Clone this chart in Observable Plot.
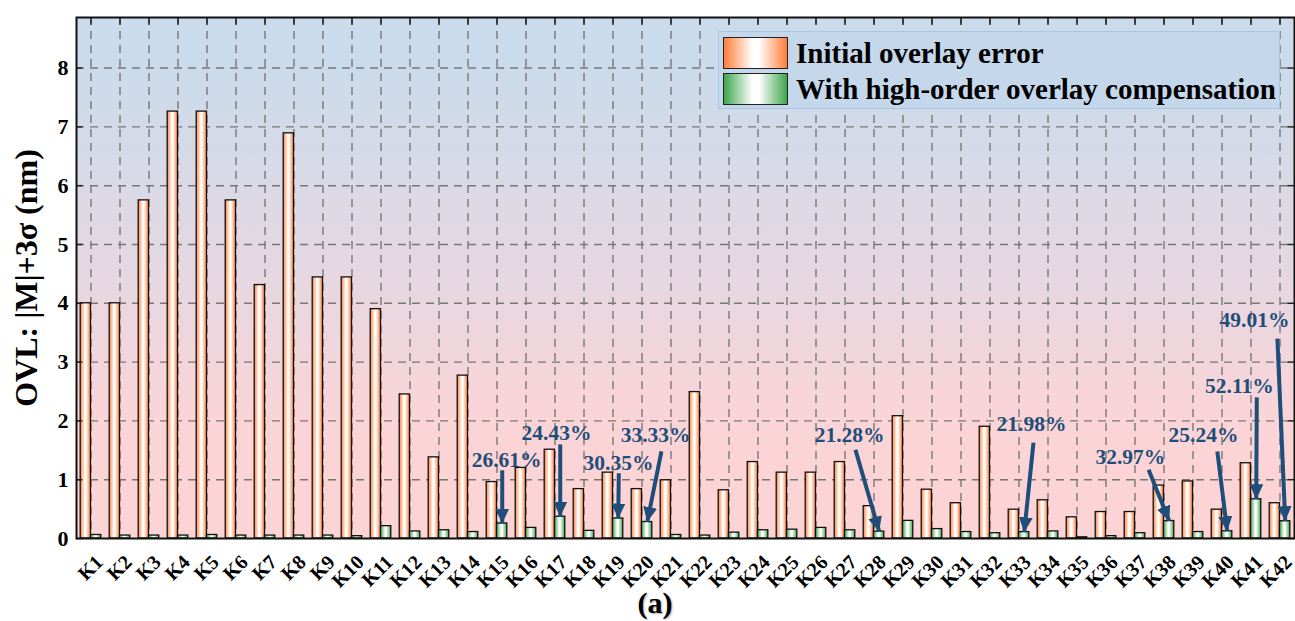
<!DOCTYPE html>
<html><head><meta charset="utf-8">
<script src="https://cdn.jsdelivr.net/npm/d3@7"></script>
<script src="https://cdn.jsdelivr.net/npm/@observablehq/plot@0.6"></script>
<style>
html,body{margin:0;padding:0;background:#fff;}
#wrap{position:relative;width:1295px;height:621px;overflow:hidden;font-family:"Liberation Serif","Times New Roman",serif;}
#wrap svg{display:block;}
.legend{position:absolute;left:718px;top:31px;width:562px;height:78px;box-sizing:border-box;background:#c5d7ea;border:1px solid #a9c5e2;}
.row{position:absolute;left:4px;display:flex;align-items:center;}
.sw{width:65px;height:32px;box-sizing:border-box;border:1.5px solid #222;}
.lab{font-weight:bold;font-size:29px;margin-left:8px;color:#000;white-space:nowrap;line-height:32px;}
.cap{position:absolute;left:615px;top:586px;width:80px;text-align:center;font-weight:bold;font-size:30px;line-height:34px;color:#000;text-shadow:1px 1px 2px rgba(0,0,0,0.35);}
</style></head>
<body>
<div id="wrap"></div>
<script>
// ---- data ----
const categories = ["K1","K2","K3","K4","K5","K6","K7","K8","K9","K10","K11","K12","K13","K14","K15","K16","K17","K18","K19","K20","K21","K22","K23","K24","K25","K26","K27","K28","K29","K30","K31","K32","K33","K34","K35","K36","K37","K38","K39","K40","K41","K42"];
const initialError = [4.00,4.00,5.75,7.26,7.26,5.75,4.31,6.89,4.44,4.44,3.90,2.45,1.38,2.77,0.96,1.20,1.51,0.84,1.12,0.84,0.99,2.49,0.82,1.30,1.12,1.12,1.30,0.55,2.08,0.83,0.60,1.90,0.49,0.65,0.36,0.45,0.45,0.90,0.97,0.49,1.28,0.60];
const compensated = [0.06,0.05,0.05,0.05,0.06,0.05,0.05,0.05,0.05,0.04,0.21,0.12,0.14,0.11,0.255,0.18,0.37,0.13,0.34,0.28,0.06,0.05,0.10,0.14,0.15,0.18,0.14,0.117,0.30,0.16,0.11,0.09,0.108,0.12,0.02,0.04,0.09,0.297,0.11,0.124,0.667,0.294];
const yTicks = [0,1,2,3,4,5,6,7,8];
const seriesNames = ["Initial overlay error","With high-order overlay compensation"];
const yTitle = "OVL: |M|+3σ (nm)";
const caption = "(a)";
const annoLabels = ["26.61%","24.43%","30.35%","33.33%","21.28%","21.98%","32.97%","25.24%","52.11%","49.01%"];
const annoTargets = [15,17,19,20,28,33,38,40,41,42];
// annotation layout (data units): label centre and arrow tail
const annoTextX = [15.33,17.05,19.19,20.47,27.16,33.43,36.84,39.36,40.60,41.12];
const annoTextY = [1.33,1.79,1.29,1.75,1.75,1.94,1.38,1.75,2.59,3.71];
const annoTailX = [15.18,17.18,19.20,20.67,27.36,33.50,37.47,39.84,41.20,41.91];
const annoTailY = [1.16,1.60,1.11,1.48,1.51,1.63,1.17,1.48,2.40,3.40];

const rows = categories.map((k, i) => ({i: i + 1, k, a: initialError[i], b: compensated[i]}));
const idx = rows.map(d => d.i);
const annos = annoLabels.map((t, j) => ({
  t, tx: annoTextX[j], ty: annoTextY[j], x1: annoTailX[j], y1: annoTailY[j],
  x2: annoTargets[j] + 0.18, y2: compensated[annoTargets[j] - 1]
}));

const BW = 0.355; // bar width in category units
const yMax = 8.86;
const annoColor = "#1f4e7a";
const gridStyle = {stroke: "#777", strokeWidth: 1.4, strokeDasharray: "8,6"};

function defsMark() {
  const g = d3.create("svg:g");
  const defs = g.append("defs");
  const bg = defs.append("linearGradient").attr("id", "bgGrad").attr("x1", 0).attr("y1", 0).attr("x2", 0).attr("y2", 1);
  [[0,"#cbdbec"],[0.12,"#ccdbeb"],[0.5,"#e6d7e1"],[0.78,"#fbd4d7"],[1,"#fdd4d5"]].forEach(([o,c]) => bg.append("stop").attr("offset", o).attr("stop-color", c));
  const og = defs.append("linearGradient").attr("id", "gOrange").attr("x1", 0).attr("y1", 0).attr("x2", 1).attr("y2", 0);
  [[0,"#ff7f3c"],[0.45,"#ffffff"],[0.55,"#ffffff"],[1,"#ff7f3c"]].forEach(([o,c]) => og.append("stop").attr("offset", o).attr("stop-color", c));
  const gg = defs.append("linearGradient").attr("id", "gGreen").attr("x1", 0).attr("y1", 0).attr("x2", 1).attr("y2", 0);
  [[0,"#3ea64c"],[0.45,"#ffffff"],[0.55,"#ffffff"],[1,"#3ea64c"]].forEach(([o,c]) => gg.append("stop").attr("offset", o).attr("stop-color", c));
  const m = defs.append("marker").attr("id", "ah").attr("viewBox", "0 0 15 14").attr("refX", 15).attr("refY", 7)
    .attr("markerWidth", 15).attr("markerHeight", 14).attr("markerUnits", "userSpaceOnUse").attr("orient", "auto");
  m.append("path").attr("d", "M0,0L15,7L0,14Z").attr("fill", annoColor);
  return g.node();
}

const svg = Plot.plot({
  width: 1295, height: 621,
  marginLeft: 76, marginRight: 1, marginTop: 17, marginBottom: 83,
  x: {domain: [0.5, 42.5], axis: null},
  y: {domain: [0, yMax]},
  style: {fontFamily: '"Liberation Serif", "Times New Roman", serif', background: "transparent", color: "black"},
  marks: [
    defsMark,
    Plot.frame({fill: "url(#bgGrad)"}),
    Plot.ruleY(yTicks.filter(v => v > 0), gridStyle),
    Plot.ruleX(idx, gridStyle),
    Plot.rect(rows, {x1: d => d.i - BW, x2: d => d.i, y1: 0, y2: "a", fill: "url(#gOrange)", stroke: "#111", strokeWidth: 1.3}),
    Plot.rect(rows, {x1: d => d.i, x2: d => d.i + BW, y1: 0, y2: "b", fill: "url(#gGreen)", stroke: "#111", strokeWidth: 1.3}),
    // inward ticks on the box
    Plot.ruleX(idx, {y1: yMax, y2: yMax - 0.13, stroke: "#222", strokeWidth: 1.5}),
    Plot.ruleY(yTicks, {x1: 42.5, x2: 42.5 - 0.22, stroke: "#222", strokeWidth: 1.5}),
    Plot.ruleY(yTicks, {x1: 0.5, x2: 0.5 + 0.22, stroke: "#222", strokeWidth: 1.5}),
    Plot.frame({stroke: "#111", strokeWidth: 2}),
    Plot.axisY({ticks: yTicks, tickSize: 0, tickPadding: 8, fontSize: 22, fontWeight: "bold", label: null}),
    Plot.text(rows, {x: "i", frameAnchor: "bottom", text: "k", rotate: -45, textAnchor: "end", dx: 13, dy: 25, fontSize: 20, fontWeight: "bold", fill: "black"}),
    Plot.text([yTitle], {frameAnchor: "left", text: d => d, rotate: -90, textAnchor: "middle", dx: -50, fontSize: 32, fontWeight: "bold", fill: "black"}),
    Plot.link(annos, {x1: "x1", y1: "y1", x2: "x2", y2: "y2", stroke: annoColor, strokeWidth: 4}),
    Plot.text(annos, {x: "tx", y: "ty", text: "t", fill: annoColor, fontSize: 21.5, fontWeight: "bold"})
  ]
});
svg.querySelectorAll('[aria-label="link"] path').forEach(p => p.setAttribute("marker-end", "url(#ah)"));

const wrap = document.getElementById("wrap");
wrap.appendChild(svg);

const legend = document.createElement("div");
legend.className = "legend";
const swFill = ["linear-gradient(to right,#ff7f3c,#ffffff 45%,#ffffff 55%,#ff7f3c)", "linear-gradient(to right,#3ea64c,#ffffff 45%,#ffffff 55%,#3ea64c)"];
seriesNames.forEach((name, j) => {
  const row = document.createElement("div");
  row.className = "row";
  row.style.top = (j === 0 ? 5 : 41) + "px";
  const sw = document.createElement("div");
  sw.className = "sw";
  sw.style.background = swFill[j];
  const lab = document.createElement("div");
  lab.className = "lab";
  lab.textContent = name;
  row.appendChild(sw); row.appendChild(lab);
  legend.appendChild(row);
});
wrap.appendChild(legend);

const cap = document.createElement("div");
cap.className = "cap";
cap.textContent = caption;
wrap.appendChild(cap);
</script>
</body></html>
